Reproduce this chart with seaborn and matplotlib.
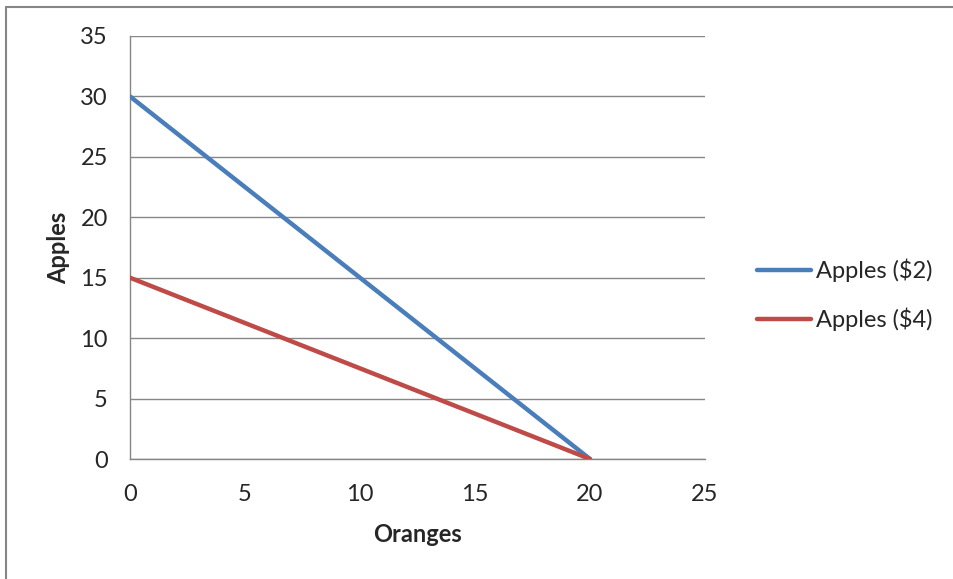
import pandas as pd
import matplotlib.pyplot as plt
import seaborn as sns
from matplotlib.lines import Line2D

# Data
oranges = [0, 20]
apples_2 = [30, 0]
apples_4 = [15, 0]
series_names = ["Apples ($2)", "Apples ($4)"]

df = pd.concat([
    pd.DataFrame({"Oranges": oranges, "Apples": apples_2, "Series": series_names[0]}),
    pd.DataFrame({"Oranges": oranges, "Apples": apples_4, "Series": series_names[1]}),
])

sns.set_style("white")
plt.rcParams['font.family'] = ['Lato', 'DejaVu Sans']

grey = "#868686"
fs = 17
fig = plt.figure(figsize=(9.54, 5.79), dpi=100)
ax = fig.add_axes([130 / 954, 1 - 459 / 579, 575 / 954, 423 / 579])

sns.lineplot(data=df, x="Oranges", y="Apples", hue="Series",
             palette=["#4A7EBB", "#BE4B48"], linewidth=3.2, ax=ax,
             legend=False, zorder=3)

ax.set_xlim(0, 25)
ax.set_ylim(0, 35)
ax.set_xticks(range(0, 26, 5))
ax.set_yticks(range(0, 36, 5))
ax.yaxis.grid(True, color=grey, linewidth=1)
ax.xaxis.grid(False)
for s in ["top", "right"]:
    ax.spines[s].set_visible(False)
for s in ["left", "bottom"]:
    ax.spines[s].set_color(grey)
    ax.spines[s].set_linewidth(1)
ax.tick_params(axis="both", direction="out", length=6, width=1, color=grey,
               labelsize=fs)
ax.tick_params(axis="y", pad=10)
ax.tick_params(axis="x", pad=12)
ax.set_xlabel("Oranges", fontsize=fs, fontweight="bold", labelpad=13)
ax.set_ylabel("Apples", fontsize=fs, fontweight="bold", labelpad=7)

handles = [Line2D([], [], color="#4A7EBB", linewidth=3.2, solid_capstyle="round"),
           Line2D([], [], color="#BE4B48", linewidth=3.2, solid_capstyle="round")]
fig.legend(handles, series_names, loc="center left",
           bbox_to_anchor=(757 / 954, 1 - 295 / 579), frameon=False,
           borderaxespad=0, borderpad=0,
           fontsize=fs, handlelength=2.3, handletextpad=0.2, labelspacing=1.1)

# chart border (top and left edges visible)
fig.add_artist(Line2D([6 / 954, 1], [1 - 6.5 / 579, 1 - 6.5 / 579], color=grey, linewidth=1.5))
fig.add_artist(Line2D([6.5 / 954, 6.5 / 954], [0, 1 - 6.5 / 579], color=grey, linewidth=1.5))

fig.savefig("out.png", dpi=100)
